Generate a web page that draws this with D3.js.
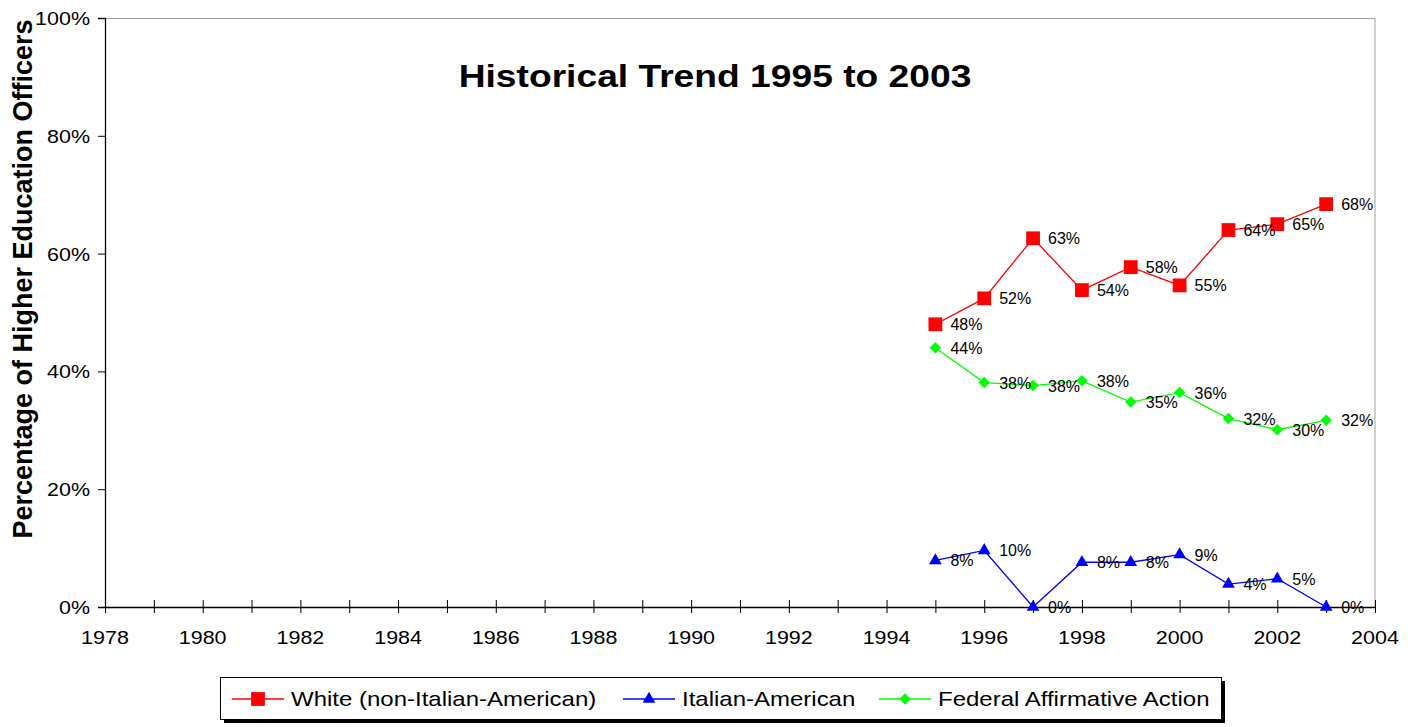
<!DOCTYPE html>
<html>
<head>
<meta charset="utf-8">
<script src="https://cdnjs.cloudflare.com/ajax/libs/d3/7.8.5/d3.min.js"></script>
<style>
  body { margin: 0; background: #fff; }
  svg { display: block; font-family: Arial, "Liberation Sans", sans-serif; }
</style>
</head>
<body>
<div id="chart"></div>
<script>
// chart data
var years = [1995, 1996, 1997, 1998, 1999, 2000, 2001, 2002, 2003];
var whiteVals = [48.0, 52.4, 62.6, 53.8, 57.7, 54.6, 64.0, 65.0, 68.4];
var italianVals = [7.9, 9.6, 0.0, 7.6, 7.6, 8.9, 3.9, 4.8, 0.0];
var federalVals = [44.0, 38.1, 37.6, 38.4, 34.8, 36.4, 32.0, 30.1, 31.7];
var seriesNames = ["White (non-Italian-American)", "Italian-American", "Federal Affirmative Action"];
var xTickLabels = [1978, 1980, 1982, 1984, 1986, 1988, 1990, 1992, 1994, 1996, 1998, 2000, 2002, 2004];
var yTickLabels = [0, 20, 40, 60, 80, 100];

var svgWidth = 1413;
var svgHeight = 727;

var margin = { top: 18, right: 38, bottom: 120, left: 105 };
var width = svgWidth - margin.left - margin.right;
var height = svgHeight - margin.top - margin.bottom;

var svg = d3.select("#chart")
  .append("svg")
  .attr("width", svgWidth)
  .attr("height", svgHeight);

var chartGroup = svg.append("g")
  .attr("transform", `translate(${margin.left}, ${margin.top})`);

var xScale = d3.scaleLinear().domain([1978, 2004]).range([0, width]);
var yScale = d3.scaleLinear().domain([0, 100]).range([height, 0]);

// the picture's text is a bit wider than plain Arial, so stretch it sideways
function place(sel, x, y, sx) {
  return sel.attr("transform", `translate(${x}, ${y}) scale(${sx}, 1)`);
}

// gray frame top/right
chartGroup.append("path")
  .attr("d", `M0,0.5H${width}V${height}`)
  .attr("fill", "none")
  .attr("stroke", "#a0a0a0")
  .attr("stroke-width", 1);

// x axis: ticks every year, crossing the line
var xAxis = d3.axisBottom(xScale)
  .tickValues(d3.range(1978, 2005))
  .tickSize(0)
  .tickFormat("");
var xg = chartGroup.append("g")
  .attr("transform", `translate(0, ${height})`)
  .call(xAxis);
xg.select(".domain").attr("stroke", "#000").attr("stroke-width", 1.3);
xg.selectAll(".tick line").attr("y1", -7).attr("y2", 6).attr("stroke", "#000");

xg.selectAll(".xlab")
  .data(xTickLabels)
  .enter()
  .append("text")
  .attr("text-anchor", "middle")
  .attr("font-size", "19px")
  .attr("fill", "#000")
  .text(d => d)
  .each(function(d) { place(d3.select(this), xScale(d), 37, 1.13); });

// y axis
var yAxis = d3.axisLeft(yScale)
  .tickValues(yTickLabels)
  .tickSize(7)
  .tickFormat("");
var yg = chartGroup.append("g").call(yAxis);
yg.select(".domain").attr("stroke", "#000").attr("stroke-width", 1.3);
yg.selectAll(".tick line").attr("x2", -7).attr("x1", 1).attr("stroke", "#000");

yg.selectAll(".ylab")
  .data(yTickLabels)
  .enter()
  .append("text")
  .attr("text-anchor", "end")
  .attr("font-size", "19px")
  .attr("fill", "#000")
  .text(d => d + "%")
  .each(function(d) { place(d3.select(this), -15, yScale(d) + 7, 1.13); });

// title
place(svg.append("text"), 715, 87, 1.2)
  .attr("text-anchor", "middle")
  .attr("font-size", "31px")
  .attr("font-weight", "bold")
  .text("Historical Trend 1995 to 2003");

// y axis title
svg.append("text")
  .attr("transform", "translate(32, 279) rotate(-90)")
  .attr("text-anchor", "middle")
  .attr("font-size", "27px")
  .attr("font-weight", "bold")
  .text("Percentage of Higher Education Officers");

var series = [
  { name: seriesNames[0], values: whiteVals, color: "#ff0000", symbol: d3.symbolSquare, size: 190, rot: 0 },
  { name: seriesNames[1], values: italianVals, color: "#0000ff", symbol: d3.symbolTriangle, size: 70, rot: 0 },
  { name: seriesNames[2], values: federalVals, color: "#00ff00", symbol: d3.symbolSquare, size: 66, rot: 45 }
];

var line = d3.line()
  .x(d => xScale(d.year))
  .y(d => yScale(d.value));

series.forEach(function(s) {
  var pts = years.map((y, i) => ({ year: y, value: s.values[i] }));

  chartGroup.append("path")
    .datum(pts)
    .attr("d", line)
    .attr("fill", "none")
    .attr("stroke", s.color)
    .attr("stroke-width", 1.3);

  chartGroup.selectAll(null)
    .data(pts)
    .enter()
    .append("path")
    .attr("d", d3.symbol().type(s.symbol).size(s.size))
    .attr("transform", d => `translate(${xScale(d.year)}, ${yScale(d.value)}) rotate(${s.rot})`)
    .attr("fill", s.color);

  chartGroup.selectAll(null)
    .data(pts)
    .enter()
    .append("text")
    .attr("x", d => xScale(d.year) + 15)
    .attr("y", d => yScale(d.value) + 6)
    .attr("font-size", "16px")
    .attr("fill", "#000")
    .text(d => Math.round(d.value) + "%");
});

// legend
var legend = svg.append("g");
legend.append("rect")
  .attr("x", 224).attr("y", 681)
  .attr("width", 1001).attr("height", 42)
  .attr("fill", "#000");
legend.append("rect")
  .attr("x", 220.5).attr("y", 677.5)
  .attr("width", 1001).attr("height", 42)
  .attr("fill", "#fff")
  .attr("stroke", "#000");

var legendX = [232, 623, 879];
series.forEach(function(s, i) {
  var lx = legendX[i];
  legend.append("line")
    .attr("x1", lx).attr("x2", lx + 52)
    .attr("y1", 699).attr("y2", 699)
    .attr("stroke", s.color)
    .attr("stroke-width", 1.3);
  legend.append("path")
    .attr("d", d3.symbol().type(s.symbol).size(s.size))
    .attr("transform", `translate(${lx + 26}, 699) rotate(${s.rot})`)
    .attr("fill", s.color);
  place(legend.append("text"), lx + 59, 706, 1.2)
    .attr("font-size", "20px")
    .attr("fill", "#000")
    .text(s.name);
});
</script>
</body>
</html>
